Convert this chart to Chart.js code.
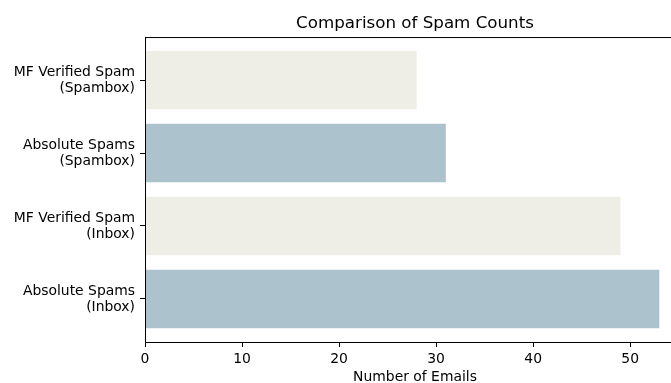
<!DOCTYPE html>
<html>
<head>
<meta charset="utf-8">
<script src="https://cdn.jsdelivr.net/npm/chart.js@4/dist/chart.umd.min.js"></script>
<style>
    html, body { margin: 0; padding: 0; overflow: hidden; background: #fff; }
    #wrap { width: 686px; height: 383px; }
</style>
</head>
<body>
<div id="wrap"><canvas id="spam-chart"></canvas></div>
<script>
// 数据 (bottom to top, like matplotlib barh)
const categories = [
    ['Absolute Spams', '(Inbox)'],
    ['MF Verified Spam', '(Inbox)'],
    ['Absolute Spams', '(Spambox)'],
    ['MF Verified Spam', '(Spambox)']
];
const spamCounts = [53, 49, 31, 28];
const barColors = ['#acc2cd', '#efeee6', '#acc2cd', '#efeee6'];
const xTicks = [0, 10, 20, 30, 40, 50];

const fontFamily = "'DejaVu Sans', sans-serif";

// 坐标框 (four spines)
const framePlugin = {
    id: 'frame',
    afterDraw(chart) {
        const a = chart.chartArea;
        const ctx = chart.ctx;
        ctx.save();
        ctx.strokeStyle = '#000';
        ctx.lineWidth = 1;
        ctx.strokeRect(a.left + 0.5, a.top + 0.5, a.right - a.left, a.bottom - a.top);
        ctx.restore();
    }
};

const ctx = document.getElementById('spam-chart').getContext('2d');

window.spamChart = new Chart(ctx, {
    type: 'bar',
    data: {
        datasets: [{
            data: spamCounts.map((v, i) => ({ x: v, y: i })),
            backgroundColor: barColors,
            borderWidth: 0,
            barPercentage: 0.8,
            categoryPercentage: 1.0
        }]
    },
    options: {
        indexAxis: 'y',
        responsive: true,
        maintainAspectRatio: false,
        animation: false,
        layout: { padding: { left: 0, right: 1, top: 0, bottom: 0 } },
        scales: {
            x: {
                type: 'linear',
                min: 0,
                max: 53 * 1.05,
                afterFit: s => { s.height = 41; },
                afterBuildTicks: s => { s.ticks = xTicks.map(v => ({ value: v })); },
                ticks: {
                    includeBounds: false,
                    color: '#000',
                    padding: 4,
                    font: { family: fontFamily, size: 13.9 }
                },
                grid: {
                    drawOnChartArea: false,
                    tickLength: 5,
                    tickColor: '#000'
                },
                border: { display: true, color: '#000' },
                title: {
                    display: true,
                    text: 'Number of Emails',
                    color: '#000',
                    padding: { top: 0, bottom: -1 },
                    font: { family: fontFamily, size: 13.9, lineHeight: 1 }
                }
            },
            y: {
                type: 'linear',
                min: -0.59,
                max: 3.59,
                offset: false,
                afterFit: s => { s.width = 145; },
                afterBuildTicks: s => { s.ticks = categories.map((_, i) => ({ value: i })); },
                ticks: {
                    color: '#000',
                    padding: 5,
                    font: { family: fontFamily, size: 13.9, lineHeight: 1.15 },
                    callback: v => categories[v]
                },
                grid: {
                    offset: false,
                    drawOnChartArea: false,
                    tickLength: 5,
                    tickColor: '#000'
                },
                border: { display: true, color: '#000' }
            }
        },
        plugins: {
            legend: { display: false },
            tooltip: { enabled: false },
            title: {
                display: true,
                fullSize: false,
                text: 'Comparison of Spam Counts',
                color: '#000',
                padding: { top: 14, bottom: 3 },
                font: { family: fontFamily, size: 16.7, weight: 'normal', lineHeight: 1.2 }
            }
        }
    },
    plugins: [framePlugin]
});
</script>
</body>
</html>
